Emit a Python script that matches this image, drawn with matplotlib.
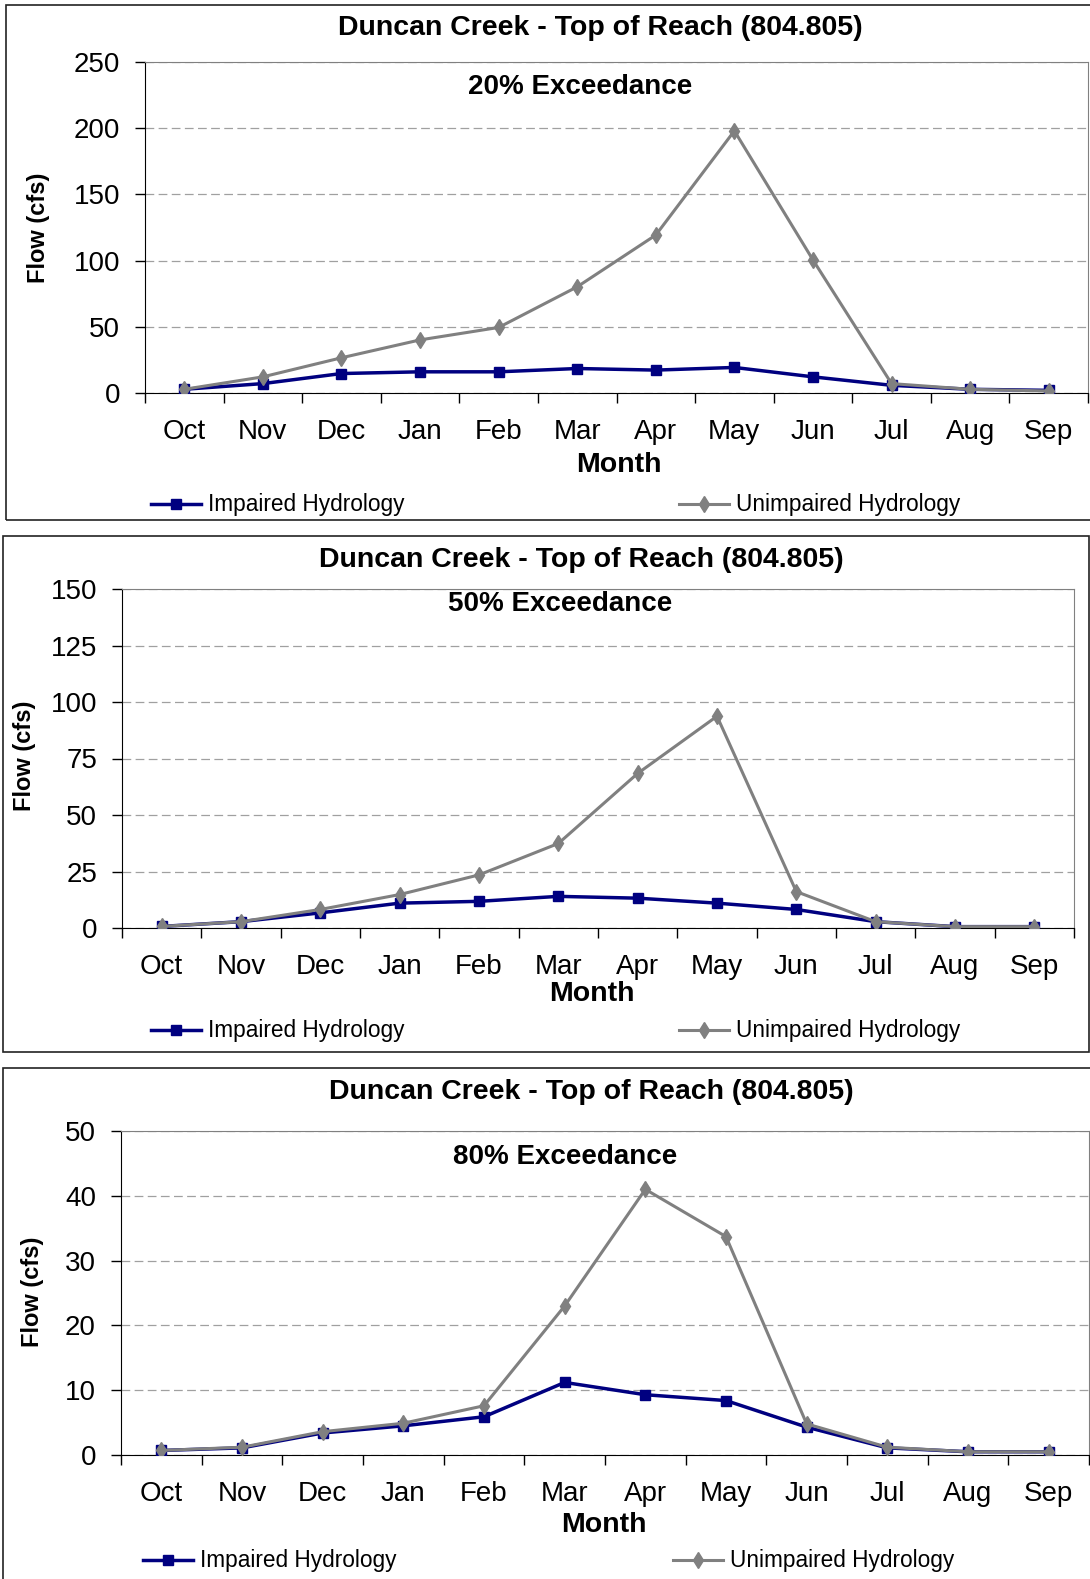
import matplotlib
matplotlib.use("Agg")
import matplotlib.pyplot as plt
from matplotlib.patches import Rectangle

plt.rcParams['font.family'] = ['Liberation Sans', 'DejaVu Sans']

# data (flow in cfs)
months = ["Oct", "Nov", "Dec", "Jan", "Feb", "Mar", "Apr", "May", "Jun", "Jul", "Aug", "Sep"]

impaired_20 = [2.8, 7.1, 14.7, 16.0, 16.0, 18.5, 17.3, 19.3, 12.2, 5.8, 2.8, 2.0]
unimpaired_20 = [2.8, 12.2, 26.6, 40.1, 49.5, 80.2, 119.3, 198.0, 100.5, 7.1, 2.8, 1.5]

impaired_50 = [0.7, 2.8, 6.7, 11.0, 11.8, 14.0, 13.2, 11.0, 8.2, 2.8, 0.6, 0.6]
unimpaired_50 = [0.7, 2.8, 8.2, 14.8, 23.5, 37.4, 68.4, 93.7, 16.1, 2.8, 0.6, 0.6]

impaired_80 = [0.7, 1.1, 3.4, 4.5, 5.9, 11.2, 9.3, 8.4, 4.3, 1.1, 0.5, 0.5]
unimpaired_80 = [0.7, 1.2, 3.6, 4.9, 7.6, 23.0, 41.0, 33.7, 4.8, 1.2, 0.5, 0.5]

title = "Duncan Creek - Top of Reach (804.805)"
subtitles = ["20% Exceedance", "50% Exceedance", "80% Exceedance"]
y_max = [250, 150, 50]
y_step = [50, 25, 10]

W, H = 1090, 1579
fig = plt.figure(figsize=(W / 100, H / 100), dpi=100)


def fx(x):
    return x / W


def fy(y):
    return 1 - y / H


# pixel layouts: frame, plot area, title, subtitle, ylabel, month label, legend
layouts = [
    dict(frame=(6, 5, 1095, 520), plot=(145, 62, 1088, 393), title=(600, 28),
         sub=(580, 87), ylab=(38, 228), month=(619, 465), leg=(151, 679, 505)),
    dict(frame=(3, 536, 1089, 1052), plot=(122, 589, 1074, 928), title=(581, 560),
         sub=(560, 604), ylab=(25, 756), month=(592, 994), leg=(151, 679, 1031)),
    dict(frame=(3, 1068, 1095, 1590), plot=(121, 1131, 1089, 1455), title=(591, 1092),
         sub=(565, 1157), ylab=(32, 1292), month=(604, 1525), leg=(143, 673, 1561)),
]
impaired = [impaired_20, impaired_50, impaired_80]
unimpaired = [unimpaired_20, unimpaired_50, unimpaired_80]

x = list(range(len(months)))

for i, lay in enumerate(layouts):
    l, t, r, b = lay["frame"]
    fig.patches.append(Rectangle((fx(l), fy(b)), fx(r - l), (b - t) / H, transform=fig.transFigure,
                                 fill=False, edgecolor="#222222", lw=1.2))

    pl, pt, pr, pb = lay["plot"]
    ax = fig.add_axes([fx(pl), fy(pb), fx(pr - pl), (pb - pt) / H])

    ax.plot(x, impaired[i], color="#000080", lw=2.5, marker="s", ms=6.5, zorder=3,
            label="Impaired Hydrology")
    ax.plot(x, unimpaired[i], color="#808080", lw=2.2, marker="d", ms=8.5, zorder=4,
            label="Unimpaired Hydrology")

    ax.set_xlim(-0.5, len(months) - 0.5)
    ax.set_ylim(0, y_max[i])
    ax.set_yticks(range(0, y_max[i] + 1, y_step[i]))
    ax.set_xticks([k - 0.5 for k in range(len(months) + 1)])
    ax.set_xticklabels([])
    ax.set_xticks(x, minor=True)
    ax.set_xticklabels(months, minor=True)
    ax.tick_params(axis="x", which="major", direction="out", length=7, width=1)
    ax.tick_params(axis="x", which="minor", length=0, pad=18.5, labelsize=20)
    ax.tick_params(axis="y", direction="out", length=7, width=1, pad=11, labelsize=20)

    ax.yaxis.grid(True, color="#a0a0a0", lw=0.9, dashes=(7, 3.5))
    ax.set_axisbelow(True)
    ax.spines["left"].set_color("black")
    ax.spines["bottom"].set_color("black")
    ax.spines["top"].set_color("#808080")
    ax.spines["right"].set_color("#808080")

    fig.text(fx(lay["title"][0]), fy(lay["title"][1]), title, ha="center", va="center",
             fontsize=20.5, fontweight="bold")
    fig.text(fx(lay["sub"][0]), fy(lay["sub"][1]), subtitles[i], ha="center", va="center",
             fontsize=20, fontweight="bold")
    fig.text(fx(lay["ylab"][0]), fy(lay["ylab"][1]), "Flow (cfs)", ha="center", va="center",
             rotation=90, fontsize=17, fontweight="bold")
    fig.text(fx(lay["month"][0]), fy(lay["month"][1]), "Month", ha="center", va="center",
             fontsize=20.5, fontweight="bold")

    h, labs = ax.get_legend_handles_labels()
    lx1, lx2, ly = lay["leg"]
    for hh, ll, lx in [(h[0], labs[0], lx1), (h[1], labs[1], lx2)]:
        fig.legend([hh], [ll], loc="center left", bbox_to_anchor=(fx(lx), fy(ly)),
                   frameon=False, borderpad=0, borderaxespad=0, numpoints=1,
                   handlelength=2.2, handletextpad=0.3, fontsize=16.3)

fig.savefig("out.png", dpi=100)
